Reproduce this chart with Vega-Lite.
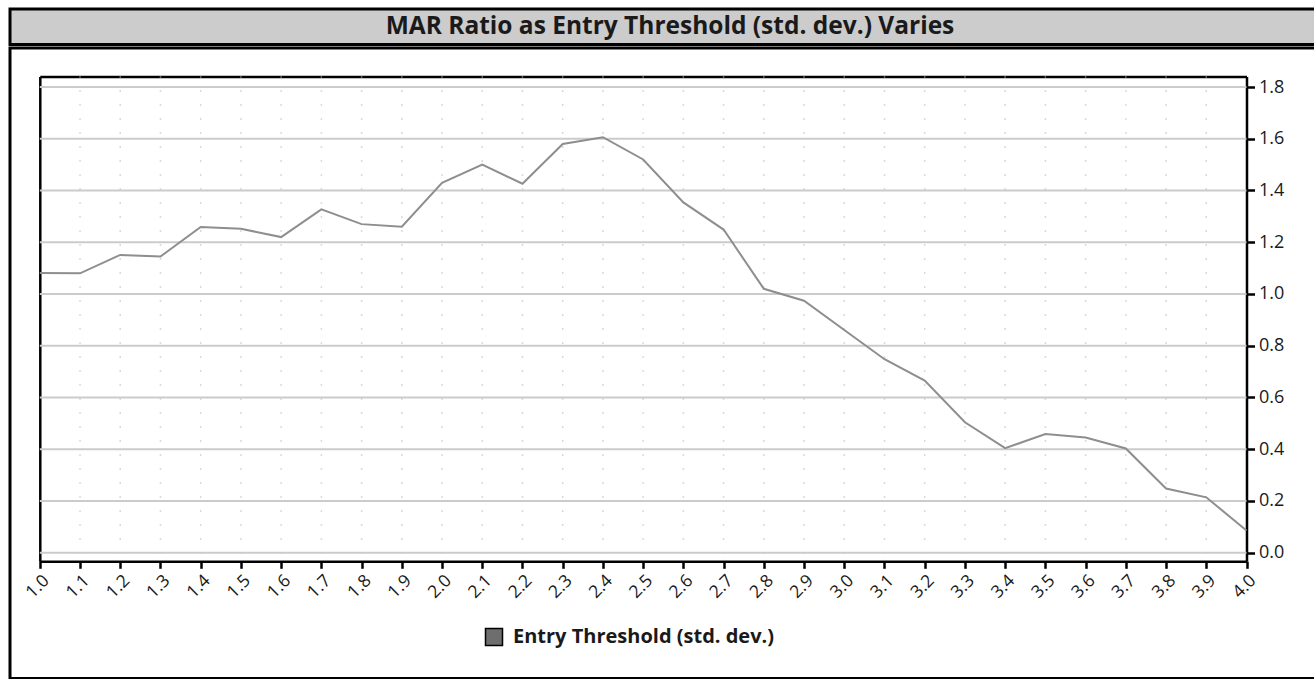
{
  "$schema": "https://vega.github.io/schema/vega-lite/v6.json",
  "background": "white",
  "padding": {"left": 8, "top": 7, "right": 0, "bottom": 0},
  "spacing": 0,
  "datasets": {
    "series": [
      {"threshold": 1.0, "mar": 1.081},
      {"threshold": 1.1, "mar": 1.080},
      {"threshold": 1.2, "mar": 1.151},
      {"threshold": 1.3, "mar": 1.145},
      {"threshold": 1.4, "mar": 1.259},
      {"threshold": 1.5, "mar": 1.252},
      {"threshold": 1.6, "mar": 1.220},
      {"threshold": 1.7, "mar": 1.327},
      {"threshold": 1.8, "mar": 1.270},
      {"threshold": 1.9, "mar": 1.260},
      {"threshold": 2.0, "mar": 1.430},
      {"threshold": 2.1, "mar": 1.500},
      {"threshold": 2.2, "mar": 1.426},
      {"threshold": 2.3, "mar": 1.580},
      {"threshold": 2.4, "mar": 1.606},
      {"threshold": 2.5, "mar": 1.520},
      {"threshold": 2.6, "mar": 1.354},
      {"threshold": 2.7, "mar": 1.249},
      {"threshold": 2.8, "mar": 1.020},
      {"threshold": 2.9, "mar": 0.974},
      {"threshold": 3.0, "mar": 0.861},
      {"threshold": 3.1, "mar": 0.748},
      {"threshold": 3.2, "mar": 0.665},
      {"threshold": 3.3, "mar": 0.504},
      {"threshold": 3.4, "mar": 0.404},
      {"threshold": 3.5, "mar": 0.459},
      {"threshold": 3.6, "mar": 0.445},
      {"threshold": 3.7, "mar": 0.403},
      {"threshold": 3.8, "mar": 0.248},
      {"threshold": 3.9, "mar": 0.214},
      {"threshold": 4.0, "mar": 0.086}
    ],
    "xgrid": [
      {"v": 1.1}, {"v": 1.2}, {"v": 1.3}, {"v": 1.4}, {"v": 1.5}, {"v": 1.6}, {"v": 1.7}, {"v": 1.8}, {"v": 1.9}, {"v": 2.0},
      {"v": 2.1}, {"v": 2.2}, {"v": 2.3}, {"v": 2.4}, {"v": 2.5}, {"v": 2.6}, {"v": 2.7}, {"v": 2.8}, {"v": 2.9}, {"v": 3.0},
      {"v": 3.1}, {"v": 3.2}, {"v": 3.3}, {"v": 3.4}, {"v": 3.5}, {"v": 3.6}, {"v": 3.7}, {"v": 3.8}, {"v": 3.9}
    ],
    "ygrid": [
      {"v": 0.0}, {"v": 0.2}, {"v": 0.4}, {"v": 0.6}, {"v": 0.8}, {"v": 1.0}, {"v": 1.2}, {"v": 1.4}, {"v": 1.6}, {"v": 1.8}
    ],
    "heading": [
      {"t": "MAR Ratio as Entry Threshold (std. dev.) Varies"}
    ],
    "none": []
  },
  "vconcat": [
    {
      "width": 1320,
      "height": 35.5,
      "view": {"fill": "#cccccc", "stroke": "black", "strokeWidth": 3},
      "data": {"name": "heading"},
      "mark": {"type": "text", "font": "Open Sans", "fontWeight": "bold", "fontSize": 24.5, "color": "#1a1a1a", "baseline": "middle", "align": "center"},
      "encoding": {"text": {"field": "t", "type": "nominal"}}
    },
    {
      "width": 1320,
      "height": 630.5,
      "view": {"fill": "white", "stroke": "black", "strokeWidth": 3},
      "layer": [
        {
          "data": {"name": "xgrid"},
          "mark": {"type": "rule", "stroke": "#b5b5b5", "strokeWidth": 1.5, "strokeDash": [1, 13]},
          "encoding": {
            "x": {"field": "v", "type": "quantitative", "axis": null},
            "y": {"datum": 1.8406, "type": "quantitative", "axis": null},
            "y2": {"datum": -0.0332}
          }
        },
        {
          "data": {"name": "ygrid"},
          "mark": {"type": "rule", "stroke": "#cbcbcb", "strokeWidth": 2},
          "encoding": {
            "y": {"field": "v", "type": "quantitative", "axis": null},
            "x": {"datum": 1, "type": "quantitative", "axis": null},
            "x2": {"datum": 4}
          }
        },
        {
          "data": {"name": "series"},
          "mark": {"type": "line", "stroke": "#8e8e8e", "strokeWidth": 2},
          "encoding": {
            "x": {
              "field": "threshold", "type": "quantitative",
              "scale": {"domain": [1, 4], "range": [29.8, 1236.5], "nice": false, "zero": false},
              "axis": {
                "orient": "bottom", "offset": -117.2, "title": null,
                "values": [1.0,1.1,1.2,1.3,1.4,1.5,1.6,1.7,1.8,1.9,2.0,2.1,2.2,2.3,2.4,2.5,2.6,2.7,2.8,2.9,3.0,3.1,3.2,3.3,3.4,3.5,3.6,3.7,3.8,3.9,4.0],
                "format": ".1f", "labelAngle": -45, "labelFont": "Open Sans", "labelFontSize": 17.5, "labelColor": "#1a1a1a",
                "labelPadding": 3, "labelOverlap": false, "labelFlush": false,
                "domainColor": "black", "domainWidth": 2.5,
                "tickColor": "black", "tickWidth": 2.5, "tickSize": 7,
                "grid": false
              }
            },
            "y": {
              "field": "mar", "type": "quantitative",
              "scale": {"domain": [-0.0332, 1.8406], "range": [513.3, 28.5], "nice": false, "zero": false},
              "axis": {
                "orient": "right", "offset": -83.5, "title": null,
                "values": [0, 0.2, 0.4, 0.6, 0.8, 1.0, 1.2, 1.4, 1.6, 1.8],
                "format": ".1f", "labelFont": "Open Sans", "labelFontSize": 18, "labelColor": "#1a1a1a",
                "labelPadding": 4, "labelFlush": false, "labelOverlap": false,
                "domainColor": "black", "domainWidth": 2.5,
                "tickColor": "black", "tickWidth": 2.5, "tickSize": 8,
                "grid": false
              }
            }
          }
        },
        {
          "data": {"name": "series"},
          "mark": {"type": "line", "opacity": 0},
          "encoding": {
            "x": {
              "field": "threshold", "type": "quantitative",
              "axis": {"orient": "top", "offset": -28.5, "title": null, "labels": false, "ticks": false, "grid": false, "domainColor": "black", "domainWidth": 2.5}
            },
            "y": {
              "field": "mar", "type": "quantitative",
              "axis": {"orient": "left", "offset": -29.8, "title": null, "labels": false, "ticks": false, "grid": false, "domainColor": "black", "domainWidth": 2.5}
            }
          }
        },
        {
          "data": {"name": "none"},
          "mark": {"type": "point", "shape": "square", "filled": true},
          "encoding": {
            "fill": {
              "datum": "Entry Threshold (std. dev.)",
              "type": "nominal",
              "scale": {"range": ["#6e6e6e"]},
              "legend": {
                "title": null, "orient": "none", "legendX": 474, "legendY": 618, "padding": 0,
                "symbolType": "square", "symbolSize": 289, "symbolStrokeColor": "black", "symbolStrokeWidth": 1.5,
                "symbolFillColor": "#6e6e6e", "symbolOpacity": 1,
                "labelFont": "Open Sans", "labelFontSize": 20, "labelFontWeight": "bold", "labelColor": "#1a1a1a",
                "labelOffset": 9, "labelLimit": 0
              }
            }
          }
        }
      ],
      "resolve": {"axis": {"x": "independent", "y": "independent"}}
    }
  ]
}
